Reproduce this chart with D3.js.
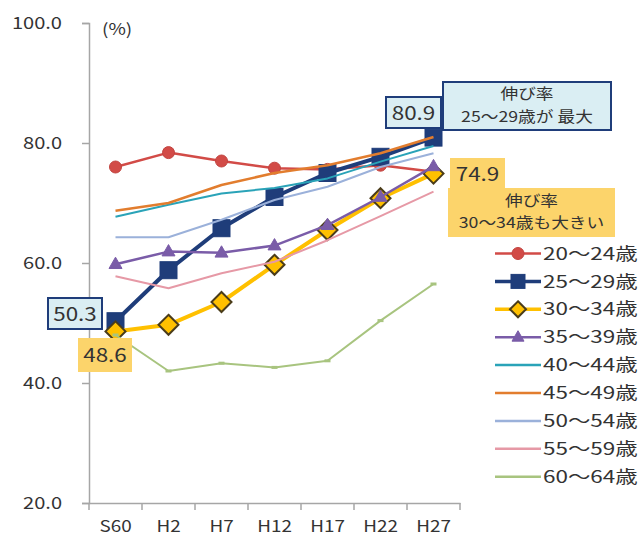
<!DOCTYPE html>
<html>
<head>
<meta charset="utf-8">
<script src="https://cdn.jsdelivr.net/npm/d3@7"></script>
<style>
  html, body { margin: 0; padding: 0; background: #fff; }
  svg { display: block; }
  text { font-family: "Noto Sans CJK JP", "Noto Sans", sans-serif; fill: #333; }
</style>
</head>
<body>
<svg id="chart" width="641" height="540"></svg>
<script>
// Survey years (Showa 60 through Heisei 27)
const years = ["S60", "H2", "H7", "H12", "H17", "H22", "H27"];
const yTicks = [20, 40, 60, 80, 100];

// Participation rate (%) by age group
const age20_24 = [76.0, 78.4, 77.0, 75.8, 75.6, 76.3, 75.2];
const age25_29 = [50.3, 58.8, 65.8, 71.0, 75.0, 77.7, 80.9];
const age30_34 = [48.6, 49.7, 53.5, 59.7, 65.5, 70.8, 74.9];
const age35_39 = [59.8, 61.9, 61.7, 62.9, 66.3, 71.0, 76.1];
const age40_44 = [67.7, 69.7, 71.6, 72.5, 74.1, 76.9, 79.5];
const age45_49 = [68.7, 70.0, 73.0, 75.0, 76.3, 78.3, 81.0];
const age50_54 = [64.3, 64.3, 67.2, 70.5, 72.7, 76.0, 78.3];
const age55_59 = [57.8, 55.8, 58.3, 60.2, 63.8, 67.8, 71.9];
const age60_64 = [48.0, 42.0, 43.3, 42.6, 43.7, 50.4, 56.5];

const seriesNames = ["20～24歳", "25～29歳", "30～34歳", "35～39歳", "40～44歳",
                     "45～49歳", "50～54歳", "55～59歳", "60～64歳"];
const seriesValues = [age20_24, age25_29, age30_34, age35_39, age40_44,
                      age45_49, age50_54, age55_59, age60_64];

// Look of each series: line colour, width, marker
const styles = [
  { color: "#d24b47", width: 2.5, marker: "circle",   fill: "#d24b47", stroke: "#c24440", size: 6 },
  { color: "#1f3d7a", width: 4,   marker: "square",   fill: "#1f3d7a", stroke: "#1f3d7a", size: 17 },
  { color: "#ffc000", width: 4,   marker: "diamond",  fill: "#ffc000", stroke: "#4a3c1a", size: 18 },
  { color: "#7a5ca8", width: 2.5, marker: "triangle", fill: "#7a5ca8", stroke: "#7a5ca8", size: 13 },
  { color: "#2aa3b8", width: 2,   marker: null },
  { color: "#e27d2e", width: 2.5, marker: null },
  { color: "#9bb1da", width: 2,   marker: null },
  { color: "#e699a6", width: 2,   marker: null },
  { color: "#a8c47f", width: 2,   marker: "dash",     fill: "#a8c47f", stroke: "#a8c47f", size: 6 }
];

const svg = d3.select("#chart");

const x = d3.scaleBand().domain(years).range([89, 460]).padding(0);
const y = d3.scaleLinear().domain([20, 100]).range([503, 23]);
const cx = d => x(d) + x.bandwidth() / 2;

// Y axis
const yAxis = svg.append("g")
  .attr("transform", "translate(89,0)")
  .call(d3.axisLeft(y).tickValues(yTicks).tickFormat(d3.format(".1f")).tickSize(7).tickPadding(20));
yAxis.select(".domain").attr("stroke", "#a6a6a6").attr("stroke-width", 1.5);
yAxis.selectAll(".tick line").attr("stroke", "#a6a6a6").attr("stroke-width", 1.5);
yAxis.selectAll(".tick text").attr("font-size", 17).attr("fill", "#333")
  .style("font-family", "'Noto Sans CJK JP', sans-serif");

// X axis: labels centred in each band, tick marks on band boundaries
const xAxis = svg.append("g")
  .attr("transform", "translate(0,503)")
  .call(d3.axisBottom(x).tickSize(0).tickPadding(18));
xAxis.select(".domain").attr("stroke", "#a6a6a6").attr("stroke-width", 1.5);
xAxis.selectAll(".tick text").attr("font-size", 16).attr("fill", "#333")
  .style("font-family", "'Noto Sans CJK JP', sans-serif");
const bounds = years.map(d => x(d)).concat([x.range()[1]]);
svg.append("g").selectAll("line").data(bounds).join("line")
  .attr("x1", d => d).attr("x2", d => d)
  .attr("y1", 503).attr("y2", 510)
  .attr("stroke", "#a6a6a6").attr("stroke-width", 1.5);

// Unit label
svg.append("text").attr("x", 102).attr("y", 35).attr("font-size", 16).text("(%)");

// Marker drawing helper
function drawMarker(g, st, px, py) {
  if (!st.marker) return;
  const s = st.size;
  if (st.marker === "circle") {
    g.append("circle").attr("cx", px).attr("cy", py).attr("r", s)
      .attr("fill", st.fill).attr("stroke", st.stroke).attr("stroke-width", 1);
  } else if (st.marker === "square") {
    g.append("rect").attr("x", px - s / 2).attr("y", py - s / 2).attr("width", s).attr("height", s)
      .attr("fill", st.fill).attr("stroke", st.stroke).attr("stroke-width", 1);
  } else if (st.marker === "diamond") {
    const h = s / 2 + 1;
    g.append("path").attr("d", `M${px},${py - h}L${px + h},${py}L${px},${py + h}L${px - h},${py}Z`)
      .attr("fill", st.fill).attr("stroke", st.stroke).attr("stroke-width", 2);
  } else if (st.marker === "triangle") {
    const h = s * 0.87;
    g.append("path").attr("d", `M${px},${py - h * 0.62}L${px + s / 2},${py + h * 0.38}L${px - s / 2},${py + h * 0.38}Z`)
      .attr("fill", st.fill).attr("stroke", st.stroke).attr("stroke-width", 1);
  } else if (st.marker === "dash") {
    g.append("rect").attr("x", px - s / 2).attr("y", py - 1.5).attr("width", s).attr("height", 3)
      .attr("fill", st.fill);
  }
}

// Series lines, later series drawn on top
const line = d3.line().x((d, i) => cx(years[i])).y(d => y(d));
seriesValues.forEach((vals, k) => {
  const st = styles[k];
  const g = svg.append("g");
  g.append("path").datum(vals).attr("d", line)
    .attr("fill", "none").attr("stroke", st.color).attr("stroke-width", st.width)
    .attr("stroke-linejoin", "round");
  vals.forEach((v, i) => drawMarker(g, st, cx(years[i]), y(v)));
});

// Legend
const legend = svg.append("g");
seriesNames.forEach((name, k) => {
  const st = styles[k];
  const ly = 253.5 + k * 27.9;
  legend.append("line").attr("x1", 495).attr("x2", 541).attr("y1", ly).attr("y2", ly)
    .attr("stroke", st.color).attr("stroke-width", st.width === 4 ? 3.5 : 2.5);
  if (st.marker && st.marker !== "dash") {
    drawMarker(legend, Object.assign({}, st, { size: st.marker === "circle" ? 6 : (st.marker === "triangle" ? 12 : 14) }), 518, ly);
  }
  legend.append("text").attr("x", 543).attr("y", ly).attr("dy", "0.36em")
    .attr("font-size", 17).attr("class", "wide").text(name);
});

// Callouts
const ann = svg.append("g");
function box(x0, y0, w, h, fill, stroke) {
  ann.append("rect").attr("x", x0).attr("y", y0).attr("width", w).attr("height", h)
    .attr("fill", fill).attr("stroke", stroke || "none").attr("stroke-width", stroke ? 2 : 0);
}
function label(tx, ty, str, size) {
  ann.append("text").attr("x", tx).attr("y", ty).attr("text-anchor", "middle")
    .attr("dy", "0.36em").attr("font-size", size).text(str);
}
const blueFill = "#daeef3", navy = "#1f3d7a", gold = "#fcd46b";

// 25～29 first and last values
box(48, 298, 54, 31, blueFill, navy);
label(75, 314, age25_29[0].toFixed(1), 19);
box(386, 97, 55, 31, blueFill, navy);
label(413.5, 113, age25_29[6].toFixed(1), 19);
box(443, 82, 168, 48, blueFill, navy);
label(527, 94, "伸び率", 15);
label(527, 117, "25～29歳が 最大", 15);

// 30～34 first and last values
box(78, 338, 54, 34, gold);
label(105, 355, age30_34[0].toFixed(1), 19);
box(450, 158, 55, 31, gold);
label(477.5, 174, age30_34[6].toFixed(1), 19);
box(448, 188, 167, 49, gold);
label(531.5, 201, "伸び率", 15);
label(531.5, 223, "30～34歳も大きい", 15);

// Widen all text slightly for a broad, Meiryo-like face
svg.selectAll("text").each(function () {
  const w = this.getComputedTextLength();
  const k = this.classList.contains("wide") ? 1.32 : 1.18;
  d3.select(this).attr("textLength", w * k).attr("lengthAdjust", "spacingAndGlyphs");
});
</script>
</body>
</html>
